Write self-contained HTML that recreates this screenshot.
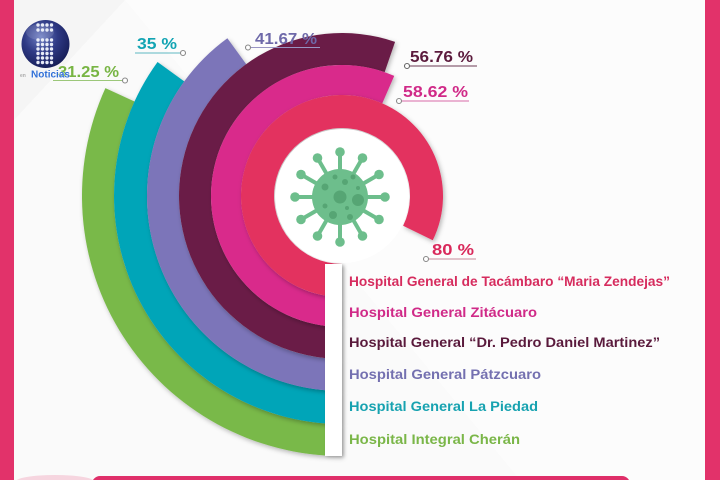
<!DOCTYPE html>
<html>
<head>
<meta charset="utf-8">
<style>
html,body{margin:0;padding:0;width:720px;height:480px;overflow:hidden;background:#fafafa;}
svg{display:block;}
text{font-family:"Liberation Sans",sans-serif;font-weight:bold;}
</style>
</head>
<body>
<svg width="720" height="480" viewBox="0 0 720 480" xmlns="http://www.w3.org/2000/svg">
<defs>
<filter id="sh" x="-20%" y="-20%" width="140%" height="140%">
<feDropShadow dx="1.5" dy="2" stdDeviation="2.5" flood-color="#000" flood-opacity="0.28"/>
</filter>
<filter id="sh2" x="-50%" y="-50%" width="200%" height="200%">
<feDropShadow dx="1.5" dy="1" stdDeviation="1.5" flood-color="#000" flood-opacity="0.2"/>
</filter>
<radialGradient id="sph" cx="0.4" cy="0.35" r="0.7">
<stop offset="0" stop-color="#6f7fc4"/>
<stop offset="0.5" stop-color="#2f3a85"/>
<stop offset="1" stop-color="#151c55"/>
</radialGradient>
</defs>

<!-- background -->
<rect x="0" y="0" width="720" height="480" fill="#fafafa"/>
<polygon points="14,0 125,0 14,120" fill="#f5f5f5"/>
<polygon points="125,0 705,0 705,480 520,480" fill="#ffffff" opacity="0.4"/>

<!-- rings (outer first) -->
<path filter="url(#sh)" fill="#79b94a" d="M 342 456 A 260 260 0 0 1 105.4 88.18 L 134.52 101.45 A 228 228 0 0 0 342 424 Z"/>
<path filter="url(#sh)" fill="#02a5b8" d="M 342 424 A 228 228 0 0 1 157.55 61.98 L 184.24 81.38 A 195 195 0 0 0 342 391 Z"/>
<path filter="url(#sh)" fill="#7b74b9" d="M 342 391 A 195 195 0 0 1 227.38 38.24 L 246.19 64.13 A 163 163 0 0 0 342 359 Z"/>
<path filter="url(#sh)" fill="#6b1e46" d="M 342 359 A 163 163 0 1 1 395.07 41.88 L 384.65 72.14 A 131 131 0 1 0 342 327 Z"/>
<path filter="url(#sh)" fill="#d9298b" d="M 342 327 A 131 131 0 1 1 394.23 75.86 L 382.27 103.37 A 101 101 0 1 0 342 297 Z"/>
<path filter="url(#sh)" fill="#e3305e" d="M 342 297 A 101 101 0 1 1 432.78 240.28 L 403.12 225.81 A 68 68 0 1 0 342 264 Z"/>
<circle cx="342" cy="196" r="67" fill="#ffffff"/>

<!-- virus -->
<g fill="#6dbe8c" stroke="#6dbe8c">
<g stroke-width="4" stroke-linecap="round">
<line x1="340" y1="197" x2="340" y2="154"/>
<line x1="340" y1="197" x2="340" y2="240"/>
<line x1="340" y1="197" x2="297" y2="197"/>
<line x1="340" y1="197" x2="383" y2="197"/>
<line x1="340" y1="197" x2="361.5" y2="159.8"/>
<line x1="340" y1="197" x2="318.5" y2="159.8"/>
<line x1="340" y1="197" x2="361.5" y2="234.2"/>
<line x1="340" y1="197" x2="318.5" y2="234.2"/>
<line x1="340" y1="197" x2="377.2" y2="175.5"/>
<line x1="340" y1="197" x2="302.8" y2="175.5"/>
<line x1="340" y1="197" x2="377.2" y2="218.5"/>
<line x1="340" y1="197" x2="302.8" y2="218.5"/>
</g>
<g stroke="none">
<circle cx="340" cy="152" r="4.8"/>
<circle cx="340" cy="242" r="4.8"/>
<circle cx="295" cy="197" r="4.8"/>
<circle cx="385" cy="197" r="4.8"/>
<circle cx="362.5" cy="158" r="4.8"/>
<circle cx="317.5" cy="158" r="4.8"/>
<circle cx="362.5" cy="236" r="4.8"/>
<circle cx="317.5" cy="236" r="4.8"/>
<circle cx="379" cy="174.5" r="4.8"/>
<circle cx="301" cy="174.5" r="4.8"/>
<circle cx="379" cy="219.5" r="4.8"/>
<circle cx="301" cy="219.5" r="4.8"/>
<circle cx="340" cy="197" r="28"/>
</g>
</g>
<g fill="#56a574">
<circle cx="340" cy="197" r="6.5"/>
<circle cx="358" cy="200" r="6"/>
<circle cx="325" cy="187" r="3.5"/>
<circle cx="335" cy="177" r="2.5"/>
<circle cx="345" cy="182" r="3"/>
<circle cx="353" cy="177" r="2.5"/>
<circle cx="333" cy="215" r="4"/>
<circle cx="350" cy="217" r="3"/>
<circle cx="325" cy="206" r="2.5"/>
<circle cx="358" cy="188" r="2"/>
<circle cx="347" cy="208" r="2"/>
</g>

<!-- legend white tabs -->
<g filter="url(#sh2)" fill="#ffffff">
<rect x="325" y="264" width="17" height="32"/>
<rect x="325" y="296" width="17" height="31"/>
<rect x="325" y="327" width="17" height="31"/>
<rect x="325" y="358" width="17" height="32"/>
<rect x="325" y="390" width="17" height="33"/>
<rect x="325" y="423" width="17" height="33"/>
</g>

<!-- legend text -->
<g font-size="13.5">
<text x="349" y="286" fill="#d62c5e" textLength="321" lengthAdjust="spacingAndGlyphs">Hospital General de Tacámbaro “Maria Zendejas”</text>
<text x="349" y="317" fill="#d02a88" textLength="188" lengthAdjust="spacingAndGlyphs">Hospital General Zitácuaro</text>
<text x="349" y="347" fill="#5a1a3c" textLength="311" lengthAdjust="spacingAndGlyphs">Hospital General “Dr. Pedro Daniel Martinez”</text>
<text x="349" y="379" fill="#7470b0" textLength="192" lengthAdjust="spacingAndGlyphs">Hospital General Pátzcuaro</text>
<text x="349" y="411" fill="#17a2b0" textLength="189" lengthAdjust="spacingAndGlyphs">Hospital General La Piedad</text>
<text x="349" y="444" fill="#7ab648" textLength="171" lengthAdjust="spacingAndGlyphs">Hospital Integral Cherán</text>
</g>

<!-- percentage labels -->
<g font-size="15.5">
<text x="58" y="77" fill="#78b544" textLength="61" lengthAdjust="spacingAndGlyphs">31.25 %</text>
<text x="137" y="49" fill="#12a4b3" textLength="40" lengthAdjust="spacingAndGlyphs">35 %</text>
<text x="255" y="44" fill="#6e69a9" textLength="62" lengthAdjust="spacingAndGlyphs">41.67 %</text>
<text x="410" y="62" fill="#5c1b3d" textLength="63" lengthAdjust="spacingAndGlyphs">56.76 %</text>
<text x="403" y="97" fill="#d02a88" textLength="65" lengthAdjust="spacingAndGlyphs">58.62 %</text>
<text x="432" y="255" fill="#d9295b" textLength="42" lengthAdjust="spacingAndGlyphs">80 %</text>
</g>
<g stroke-width="1.1" fill="#ffffff">
<line x1="53" y1="80.5" x2="122.5" y2="80.5" stroke="#9cc77a"/>
<circle cx="125" cy="80.5" r="2.5" stroke="#888"/>
<line x1="135" y1="53" x2="180.5" y2="53" stroke="#5fb8c2"/>
<circle cx="183" cy="53" r="2.5" stroke="#888"/>
<line x1="250.5" y1="47.5" x2="320" y2="47.5" stroke="#9995c4"/>
<circle cx="248" cy="47.5" r="2.5" stroke="#888"/>
<line x1="409.5" y1="66" x2="477" y2="66" stroke="#6c3a55"/>
<circle cx="407" cy="66" r="2.5" stroke="#666"/>
<line x1="401.5" y1="101" x2="469" y2="101" stroke="#d86aa8"/>
<circle cx="399" cy="101" r="2.5" stroke="#888"/>
<line x1="428.5" y1="259" x2="476" y2="259" stroke="#c98a9a"/>
<circle cx="426" cy="259" r="2.5" stroke="#888"/>
</g>

<!-- logo -->
<circle cx="45.5" cy="44" r="24" fill="url(#sph)"/>
<ellipse cx="40" cy="32" rx="14" ry="8" fill="#ffffff" opacity="0.12"/>
<g fill="#e8ecf8">
<circle cx="38" cy="25" r="1.7"/><circle cx="42.5" cy="25" r="1.7"/><circle cx="47" cy="25" r="1.7"/><circle cx="51.5" cy="25" r="1.7"/>
<circle cx="38" cy="30" r="1.7"/><circle cx="42.5" cy="30" r="1.7"/><circle cx="47" cy="30" r="1.7"/><circle cx="51.5" cy="30" r="1.7"/>
<circle cx="38" cy="40" r="1.7"/><circle cx="42.5" cy="40" r="1.7"/><circle cx="47" cy="40" r="1.7"/><circle cx="51.5" cy="40" r="1.7"/>
<circle cx="38" cy="44.5" r="1.7"/><circle cx="42.5" cy="44.5" r="1.7"/><circle cx="47" cy="44.5" r="1.7"/><circle cx="51.5" cy="44.5" r="1.7"/>
<circle cx="38" cy="49" r="1.7"/><circle cx="42.5" cy="49" r="1.7"/><circle cx="47" cy="49" r="1.7"/><circle cx="51.5" cy="49" r="1.7"/>
<circle cx="38" cy="53.5" r="1.7"/><circle cx="42.5" cy="53.5" r="1.7"/><circle cx="47" cy="53.5" r="1.7"/><circle cx="51.5" cy="53.5" r="1.7"/>
<circle cx="38" cy="58" r="1.7"/><circle cx="42.5" cy="58" r="1.7"/><circle cx="47" cy="58" r="1.7"/><circle cx="51.5" cy="58" r="1.7"/>
<circle cx="38" cy="62.5" r="1.7"/><circle cx="42.5" cy="62.5" r="1.7"/><circle cx="47" cy="62.5" r="1.7"/><circle cx="51.5" cy="62.5" r="1.7"/>
</g>
<text x="20" y="77" font-size="5" fill="#aaaaaa" font-weight="normal">en</text>
<text x="31" y="77.5" font-size="10.5" fill="#2f6fd6" stroke="#ffffff" stroke-width="0.6" paint-order="stroke" textLength="39" lengthAdjust="spacingAndGlyphs">Noticias</text>

<!-- frame -->
<rect x="0" y="0" width="14" height="480" fill="#e2326a"/>
<rect x="705" y="0" width="15" height="480" fill="#e2326a"/>
<ellipse cx="55" cy="482" rx="40" ry="7" fill="#f6d5df"/>
<rect x="92" y="476" width="538" height="16" rx="8" fill="#df2f69"/>
</svg>
</body>
</html>
